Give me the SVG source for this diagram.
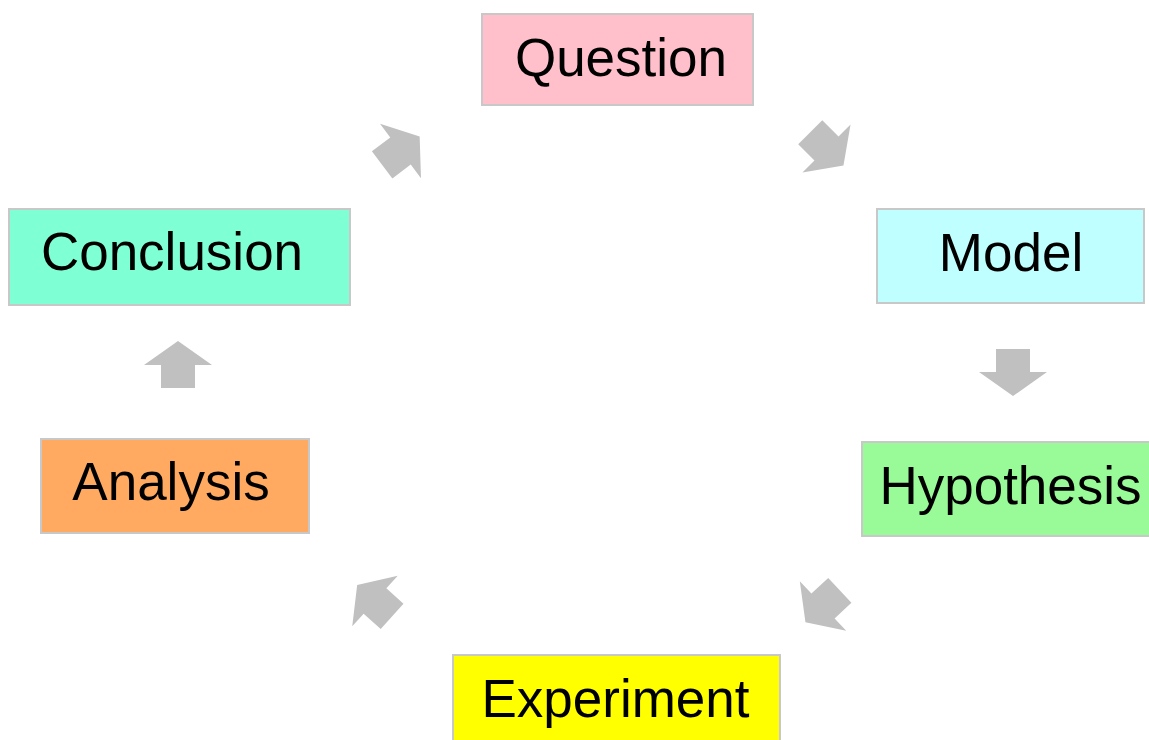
<svg xmlns="http://www.w3.org/2000/svg" width="1149" height="740" viewBox="0 0 1149 740">
<style>
.box{stroke:#c8c8c8;stroke-width:2}
.lbl{font-family:"Liberation Sans",Arial,sans-serif;font-size:53px;fill:#000;text-anchor:middle}
.arr{fill:#c0c0c0}
</style>
<defs>
<path id="blk" d="M-23,-17 L0,-17 L0,-34 L24,0 L0,34 L0,17 L-23,17 Z"/>
</defs>
<rect width="1149" height="740" fill="#fff"/>
<g id="connectors">
<use href="#blk" class="arr" transform="translate(826.5,148.5) rotate(45)"/>
<use href="#blk" class="arr" transform="translate(1013,372) rotate(90)"/>
<use href="#blk" class="arr" transform="translate(823,606) rotate(137)"/>
<use href="#blk" class="arr" transform="translate(375,601) rotate(-138)"/>
<use href="#blk" class="arr" transform="translate(178,365) rotate(-90)"/>
<use href="#blk" class="arr" transform="translate(400.5,151) rotate(-37)"/>
</g>
<g id="question">
<rect class="box" x="482" y="14" width="271" height="91" fill="#ffc0cb"/>
<text class="lbl" x="621" y="76">Question</text>
</g>
<g id="model">
<rect class="box" x="877" y="209" width="267" height="94" fill="#c0ffff"/>
<text class="lbl" x="1011" y="271">Model</text>
</g>
<g id="hypothesis">
<rect class="box" x="862" y="442" width="300" height="94" fill="#98fb98"/>
<text class="lbl" x="1010.5" y="504">Hypothesis</text>
</g>
<g id="experiment">
<rect class="box" x="453" y="655" width="327" height="100" fill="#ffff00"/>
<text class="lbl" x="615.5" y="717">Experiment</text>
</g>
<g id="analysis">
<rect class="box" x="41" y="439" width="268" height="94" fill="#ffaa60"/>
<text class="lbl" x="171" y="500">Analysis</text>
</g>
<g id="conclusion">
<rect class="box" x="9" y="209" width="341" height="96" fill="#7fffd4"/>
<text class="lbl" x="172" y="270">Conclusion</text>
</g>
</svg>
